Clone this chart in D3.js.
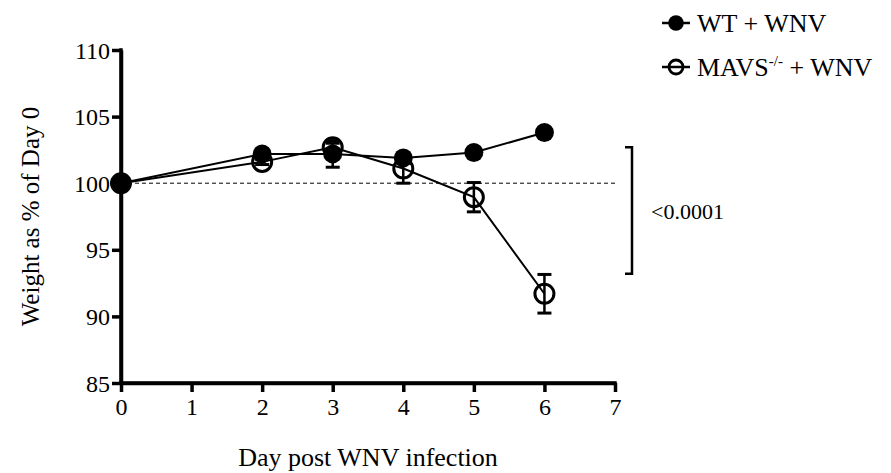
<!DOCTYPE html>
<html>
<head>
<meta charset="utf-8">
<script src="https://cdn.jsdelivr.net/npm/d3@7"></script>
<style>
  html, body { margin: 0; padding: 0; background: #fff; }
  svg text { font-family: "Liberation Serif", "Times New Roman", serif; fill: #000; }
</style>
</head>
<body>
<svg id="chart" width="891" height="473"></svg>
<script>
// Body weight after West Nile virus infection
const days = [0, 2, 3, 4, 5, 6];
const wtMean = [100, 102.2, 102.2, 101.9, 102.3, 103.8];
const wtErr = [0, 0.2, 1.0, 0.2, 0.2, 0.2];
const mavsMean = [100, 101.6, 102.7, 101.1, 98.95, 91.7];
const mavsErr = [0, 0.2, 0.3, 1.1, 1.1, 1.45];
const xTicks = [0, 1, 2, 3, 4, 5, 6, 7];
const yTicks = [85, 90, 95, 100, 105, 110];
const seriesNames = ["WT + WNV", "MAVS"];
const pLabel = "<0.0001";
const bracketRange = [102.7, 93.2];
const referenceLevel = 100;

const serif = '"Liberation Serif", "Times New Roman", serif';
const svg = d3.select("#chart");
const x = d3.scaleLinear().domain([0, 7]).range([121, 615]);
const y = d3.scaleLinear().domain([85, 110]).range([383, 50]);

// axes
const xAxis = svg.append("g")
  .attr("transform", `translate(0,${y(85)})`)
  .call(d3.axisBottom(x).tickValues(xTicks).tickFormat(d3.format("d")).tickSize(9).tickSizeOuter(0).tickPadding(6));
const yAxis = svg.append("g")
  .attr("transform", `translate(${x(0)},0)`)
  .call(d3.axisLeft(y).tickValues(yTicks).tickFormat(d3.format("d")).tickSize(9).tickSizeOuter(0).tickPadding(2));

[xAxis, yAxis].forEach(g => {
  g.attr("font-family", null).attr("font-size", null);
  g.select(".domain").attr("stroke", "#000").attr("stroke-width", 3.5);
  g.selectAll(".tick line").attr("stroke", "#000").attr("stroke-width", 3.5);
  g.selectAll(".tick text").style("font-size", "24px").style("font-family", serif).attr("fill", "#000");
});
// close the corner where both axes meet
svg.append("line")
  .attr("x1", x(0)).attr("x2", x(0))
  .attr("y1", y(110) - 1.75).attr("y2", y(85) + 1.75)
  .attr("stroke", "#000").attr("stroke-width", 3.5);
svg.append("line")
  .attr("x1", x(0) - 1.75).attr("x2", x(7) + 1.75)
  .attr("y1", y(85)).attr("y2", y(85))
  .attr("stroke", "#000").attr("stroke-width", 3.5);
yAxis.selectAll(".tick text").attr("dy", "0.34em");
xAxis.selectAll(".tick text").attr("dy", "0.72em");

// axis titles
svg.append("text")
  .attr("x", (x(0) + x(7)) / 2).attr("y", 466)
  .attr("text-anchor", "middle").style("font-size", "26px")
  .text("Day post WNV infection");
svg.append("text")
  .attr("transform", `translate(39,${(y(85) + y(110)) / 2}) rotate(-90)`)
  .attr("text-anchor", "middle").style("font-size", "25px")
  .text("Weight as % of Day 0");

// dashed 100% reference
svg.append("line")
  .attr("x1", x(0)).attr("x2", x(7))
  .attr("y1", y(referenceLevel)).attr("y2", y(referenceLevel))
  .attr("stroke", "#000").attr("stroke-width", 1)
  .attr("stroke-dasharray", "4,3");

const line = d3.line().x(d => x(d[0])).y(d => y(d[1]));
const wt = days.map((d, i) => [d, wtMean[i], wtErr[i]]);
const mavs = days.map((d, i) => [d, mavsMean[i], mavsErr[i]]);

function drawErrors(data) {
  const g = svg.append("g").attr("stroke", "#000");
  data.filter(d => d[2] > 0).forEach(d => {
    g.append("line").attr("x1", x(d[0])).attr("x2", x(d[0]))
      .attr("y1", y(d[1] - d[2])).attr("y2", y(d[1] + d[2])).attr("stroke-width", 2.5);
    [d[1] - d[2], d[1] + d[2]].forEach(v => {
      g.append("line").attr("x1", x(d[0]) - 7).attr("x2", x(d[0]) + 7)
        .attr("y1", y(v)).attr("y2", y(v)).attr("stroke-width", 3);
    });
  });
}

// MAVS-/- series (open circles) underneath
svg.append("path").datum(mavs).attr("d", line)
  .attr("fill", "none").attr("stroke", "#000").attr("stroke-width", 2);
drawErrors(mavs);
svg.append("g").selectAll("circle").data(mavs).join("circle")
  .attr("cx", d => x(d[0])).attr("cy", d => y(d[1])).attr("r", 9.5)
  .attr("fill", "none").attr("stroke", "#000").attr("stroke-width", 3);

// WT series (filled circles) on top
svg.append("path").datum(wt).attr("d", line)
  .attr("fill", "none").attr("stroke", "#000").attr("stroke-width", 2);
drawErrors(wt);
svg.append("g").selectAll("circle").data(wt).join("circle")
  .attr("cx", d => x(d[0])).attr("cy", d => y(d[1])).attr("r", 9.5)
  .attr("fill", "#000");

// significance bracket
const bx = 632;
svg.append("path")
  .attr("d", `M${bx - 7},${y(bracketRange[0])}H${bx}V${y(bracketRange[1])}H${bx - 7}`)
  .attr("fill", "none").attr("stroke", "#000").attr("stroke-width", 2.5);
svg.append("text")
  .attr("x", 651).attr("y", (y(bracketRange[0]) + y(bracketRange[1])) / 2 + 8)
  .style("font-size", "22px").text(pLabel);

// legend
const legend = svg.append("g");
const legendRows = [23, 67];
legendRows.forEach((ly, i) => {
  legend.append("line").attr("x1", 662).attr("x2", 690).attr("y1", ly).attr("y2", ly)
    .attr("stroke", "#000").attr("stroke-width", 2.5);
  legend.append("circle").attr("cx", 676).attr("cy", ly).attr("r", i === 0 ? 7.8 : 7)
    .attr("fill", i === 0 ? "#000" : "none").attr("stroke", "#000").attr("stroke-width", i === 0 ? 0 : 2.8);
});
legend.append("text").attr("x", 697).attr("y", legendRows[0] + 9).style("font-size", "26px")
  .text(seriesNames[0]);
const t2 = legend.append("text").attr("x", 697).attr("y", legendRows[1] + 9).style("font-size", "26px");
t2.append("tspan").text(seriesNames[1]);
t2.append("tspan").style("font-size", "15px").attr("dy", -10).text("-/-");
t2.append("tspan").attr("dy", 10).text(" + WNV");
</script>
</body>
</html>
